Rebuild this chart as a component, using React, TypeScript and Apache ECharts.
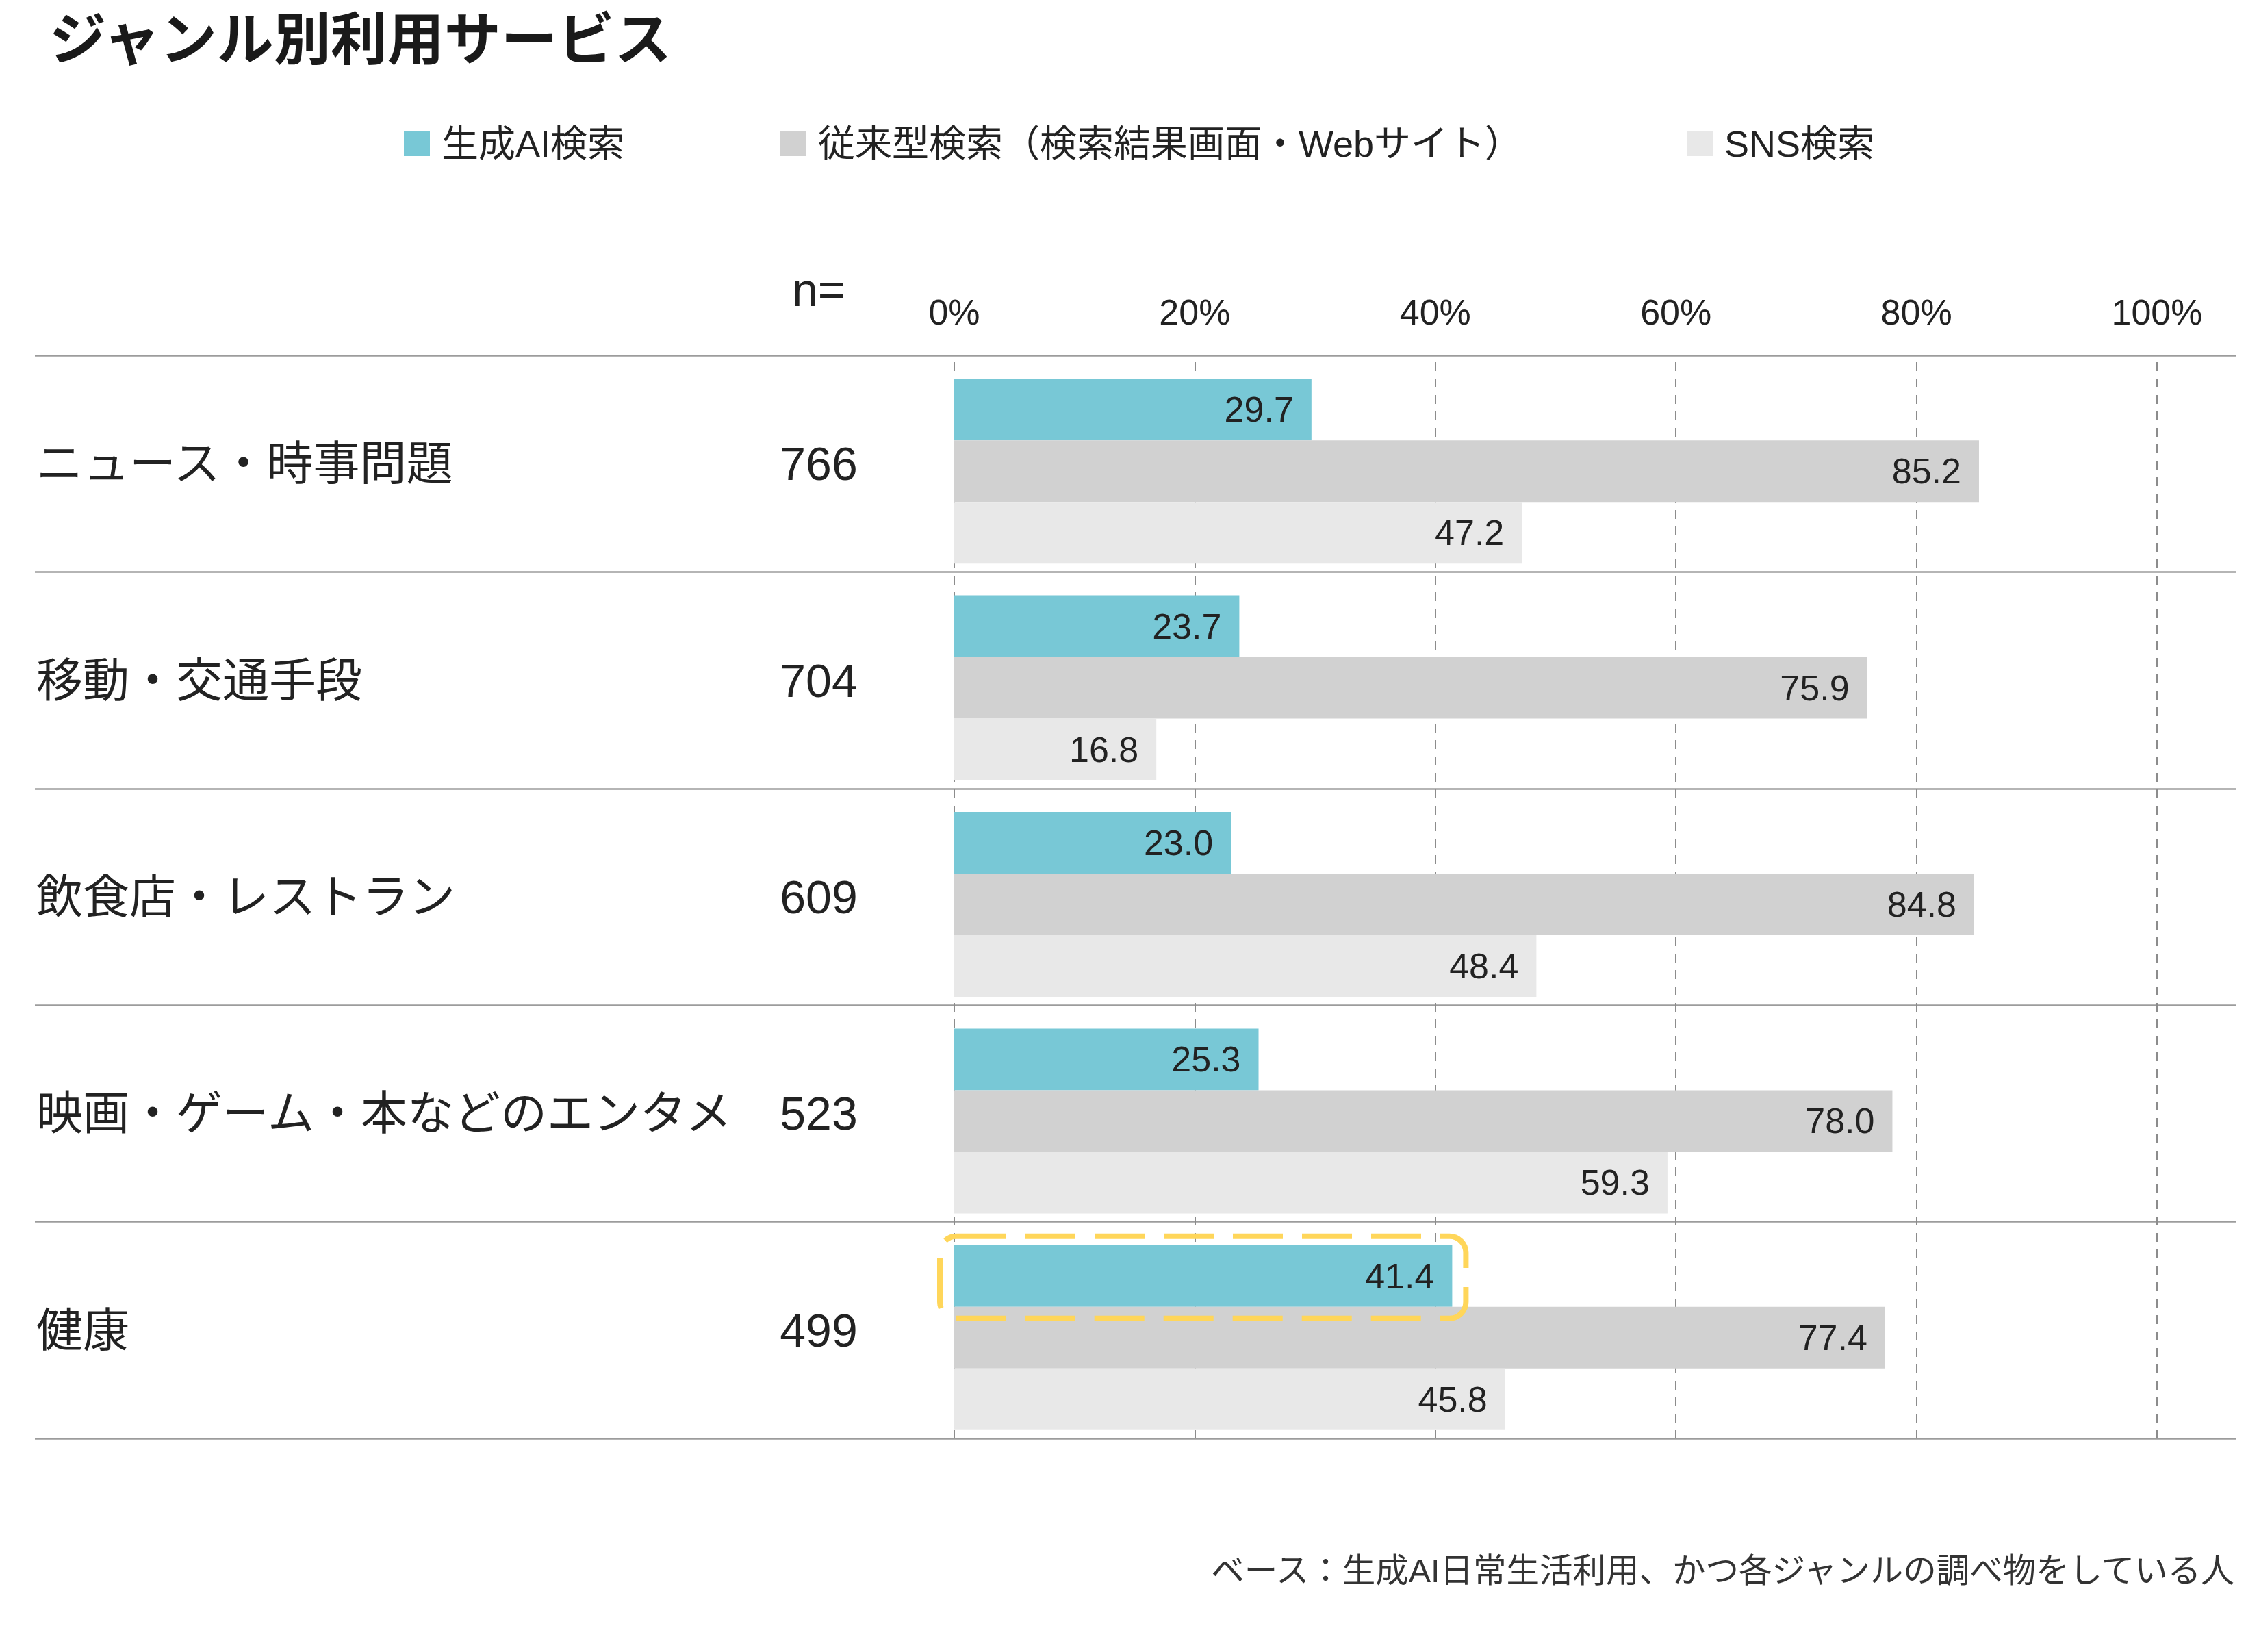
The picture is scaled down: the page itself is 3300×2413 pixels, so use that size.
import React, { useEffect, useRef } from 'react';
import * as echarts from 'echarts';

const categories = [
  'ニュース・時事問題',
  '移動・交通手段',
  '飲食店・レストラン',
  '映画・ゲーム・本などのエンタメ',
  '健康',
];
const sampleSizes = [766, 704, 609, 523, 499];
const seriesNames = ['生成AI検索', '従来型検索（検索結果画面・Webサイト）', 'SNS検索'];
const aiSearch = [29.7, 23.7, 23.0, 25.3, 41.4];
const webSearch = [85.2, 75.9, 84.8, 78.0, 77.4];
const snsSearch = [47.2, 16.8, 48.4, 59.3, 45.8];
const xTicks = [0, 20, 40, 60, 80, 100];
// 健康 × 生成AI検索 gets the yellow dashed box
const highlightIndex = 4;

const seriesColors = ['#78c8d6', '#d1d1d1', '#e8e8e8'];
const FONT = "'Liberation Sans', 'Noto Sans CJK JP', sans-serif";
const TEXT = '#222222';

const App: React.FC = () => {
  const chartRef = useRef<HTMLDivElement>(null);

  useEffect(() => {
    document.body.style.margin = '0';
    if (!chartRef.current) return;
    const chart = echarts.init(chartRef.current, null, { renderer: 'svg' });

    const valueLabel = {
      show: true,
      position: 'insideRight',
      distance: 26,
      fontSize: 52,
      fontFamily: FONT,
      color: TEXT,
      formatter: (p: any) => Number(p.value).toFixed(1),
    };

    const legendAt = (name: string, left: number) => ({
      data: [name],
      left,
      top: 178,
      icon: 'rect',
      itemWidth: 38,
      itemHeight: 36,
      selectedMode: false,
      textStyle: { fontSize: 54, fontFamily: FONT, color: TEXT, padding: [0, 0, 0, 12] },
    });

    const option: echarts.EChartsOption = {
      animation: false,
      backgroundColor: '#ffffff',
      textStyle: { fontFamily: FONT },
      title: [
        {
          text: 'ジャンル別利用サービス',
          left: 72,
          top: 17,
          padding: 0,
          textStyle: { fontSize: 83, fontWeight: 'bold', color: '#1a1a1a', fontFamily: FONT },
        },
        {
          text: 'n=',
          left: 1157,
          top: 389,
          padding: 0,
          textStyle: { fontSize: 68, fontWeight: 'normal', color: TEXT, fontFamily: FONT },
        },
        {
          text: 'ベース：生成AI日常生活利用、かつ各ジャンルの調べ物をしている人',
          right: 30,
          top: 2270,
          padding: 0,
          textStyle: { fontSize: 48.5, fontWeight: 'normal', color: '#333333', fontFamily: FONT },
        },
      ],
      legend: [
        legendAt(seriesNames[0], 585),
        legendAt(seriesNames[1], 1135),
        legendAt(seriesNames[2], 2459),
      ],
      grid: [
        { left: 1394, right: 149, top: 519, bottom: 312 },
        { left: 51, right: 34, top: 519, bottom: 312 },
      ],
      xAxis: [
        {
          gridIndex: 0,
          type: 'value',
          position: 'top',
          min: xTicks[0],
          max: xTicks[xTicks.length - 1],
          interval: xTicks[1] - xTicks[0],
          axisLine: { show: false },
          axisTick: { show: false },
          axisLabel: { formatter: '{value}%', fontSize: 52, color: TEXT, margin: 37, fontFamily: FONT },
          splitLine: { show: true, lineStyle: { color: '#8c8c8c', width: 2, type: [13, 11], dashOffset: -10 } },
        },
        { gridIndex: 1, type: 'value', show: false },
      ],
      yAxis: [
        {
          gridIndex: 0,
          type: 'category',
          inverse: true,
          data: categories,
          axisLine: { show: false },
          axisTick: { show: false },
          splitLine: { show: false },
          axisLabel: { align: 'left', margin: 1394 - 53, fontSize: 68, color: TEXT, fontFamily: FONT },
        },
        {
          gridIndex: 0,
          type: 'category',
          inverse: true,
          position: 'left',
          data: sampleSizes.map(String),
          axisLine: { show: false },
          axisTick: { show: false },
          splitLine: { show: false },
          axisLabel: { align: 'center', margin: 1394 - 1196, fontSize: 68, color: TEXT, fontFamily: FONT },
        },
        {
          gridIndex: 1,
          type: 'category',
          inverse: true,
          data: categories,
          axisLine: { show: false },
          axisTick: { show: false },
          axisLabel: { show: false },
          splitLine: { show: true, lineStyle: { color: '#9c9c9c', width: 2.5 } },
        },
      ],
      series: [
        {
          // empty slot above each group so the bars sit low in the band
          name: 'spacer',
          type: 'bar',
          xAxisIndex: 0,
          yAxisIndex: 0,
          data: categories.map(() => 0),
          barWidth: 22,
          barGap: '0%',
          silent: true,
          itemStyle: { color: 'rgba(0,0,0,0)' },
        },
        {
          name: seriesNames[0],
          type: 'bar',
          xAxisIndex: 0,
          yAxisIndex: 0,
          data: aiSearch,
          barWidth: 90,
          barGap: '0%',
          itemStyle: { color: seriesColors[0] },
          label: valueLabel,
        },
        {
          name: seriesNames[1],
          type: 'bar',
          xAxisIndex: 0,
          yAxisIndex: 0,
          data: webSearch,
          barWidth: 90,
          barGap: '0%',
          itemStyle: { color: seriesColors[1] },
          label: valueLabel,
        },
        {
          name: seriesNames[2],
          type: 'bar',
          xAxisIndex: 0,
          yAxisIndex: 0,
          data: snsSearch,
          barWidth: 90,
          barGap: '0%',
          itemStyle: { color: seriesColors[2] },
          label: valueLabel,
        },
      ],
    };

    chart.setOption(option);

    // dashed rounded box around the highlighted bar, placed from the bar's own layout
    const layout = (chart as any).getModel().getSeriesByIndex(1).getData().getItemLayout(highlightIndex);
    if (layout) {
      const x0 = Math.min(layout.x, layout.x + layout.width);
      const y0 = Math.min(layout.y, layout.y + layout.height);
      const w = Math.abs(layout.width);
      const h = Math.abs(layout.height);
      chart.setOption({
        graphic: [
          {
            type: 'rect',
            z: 100,
            silent: true,
            shape: { x: x0 - 21, y: y0 - 13, width: w + 41, height: h + 30, r: 24 },
            style: { fill: 'none', stroke: '#ffd65a', lineWidth: 8, lineDash: [73, 28] },
          },
        ],
      });
    }

    return () => {
      chart.dispose();
    };
  }, []);

  return <div ref={chartRef} style={{ width: '3300px', height: '2413px' }} />;
};

export default App;
